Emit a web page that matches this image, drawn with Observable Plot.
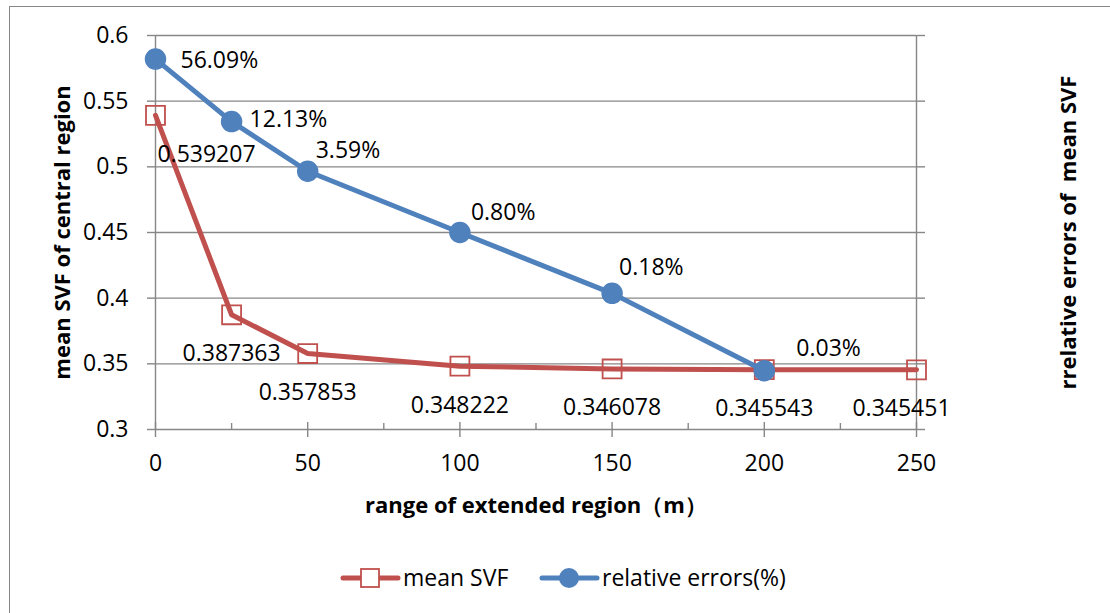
<!DOCTYPE html>
<html>
<head>
<meta charset="utf-8">
<script src="https://cdn.jsdelivr.net/npm/d3@7"></script>
<script src="https://cdn.jsdelivr.net/npm/@observablehq/plot@0.6"></script>
<style>
  html, body { margin: 0; padding: 0; background: #fff; }
  #wrap { position: relative; width: 1110px; height: 613px; overflow: hidden; font-family: 'Open Sans', sans-serif; }
  #frame { position: absolute; left: 9px; top: 6px; width: 1200px; height: 700px; border-left: 1.5px solid #888; border-top: 1.5px solid #888; }
  #base, #over { position: absolute; left: 0; top: 0; }
  #legend { position: absolute; left: 0; top: 545px; }
</style>
</head>
<body>
<div id="wrap">
  <div id="frame"></div>
  <div id="base"></div>
  <div id="over"></div>
  <div id="legend"></div>
</div>
<script>
// ---- data ----
const ranges = [0, 25, 50, 100, 150, 200, 250];
const meanSVF = [0.539207, 0.387363, 0.357853, 0.348222, 0.346078, 0.345543, 0.345451];
const errRanges = [0, 25, 50, 100, 150, 200];
const relErrors = [56.09, 12.13, 3.59, 0.80, 0.18, 0.027]; // percent
const leftTicks = [0.3, 0.35, 0.4, 0.45, 0.5, 0.55, 0.6];
const rightTicks = [0.0064, 0.032, 0.16, 0.8, 4, 20, 100]; // percent, log base 5
const xMajorTicks = [0, 50, 100, 150, 200, 250];
const xMinorTicks = [25, 75, 125, 175, 225];
const leftTitle = "mean SVF of central region";
const rightTitle = "rrelative errors of  mean SVF";
const xTitle = "range of extended region（m）";
const seriesNames = ["mean SVF", "relative errors(%)"];

const svfData = ranges.map((x, i) => ({x, v: meanSVF[i]}));
const errData = errRanges.map((x, i) => ({x, v: relErrors[i]}));

const RED = "#C0504D", BLUE = "#4F81BD", GRID = "#878787";
const W = 1110, H = 545;
const FONT = "'Open Sans', sans-serif";
const common = {
  width: W, height: H,
  marginLeft: 155, marginRight: 194, marginTop: 35, marginBottom: 116,
  style: {fontFamily: FONT, fontSize: "23px", background: "transparent", color: "#000", overflow: "visible"}
};

const base = Plot.plot({
  ...common,
  x: {domain: [0, 250]},
  y: {domain: [0.3, 0.6]},
  marks: [
    Plot.ruleY(leftTicks, {stroke: GRID, strokeWidth: 1.4}),
    Plot.ruleX([0, 250], {stroke: GRID, strokeWidth: 1.4}),
    Plot.axisX(xMajorTicks, {tickSize: 15, dy: -7, stroke: GRID, strokeWidth: 1.4, tickFormat: () => "", label: null}),
    Plot.axisX(xMinorTicks, {tickSize: 6, dy: -6, stroke: GRID, strokeWidth: 1.4, tickFormat: () => "", label: null}),
    Plot.axisX(xMajorTicks, {tickSize: 0, tickPadding: 25, fontSize: 23, fill: "#000", label: null}),
    Plot.axisY(leftTicks, {anchor: "left", tickSize: 8, tickPadding: 19, stroke: GRID, strokeWidth: 1.4, fill: "#000", fontSize: 23, label: null,
      tickFormat: d => String(+d.toFixed(2))}),
    Plot.line(svfData, {x: "x", y: "v", stroke: RED, strokeWidth: 5, strokeLinejoin: "round"}),
    Plot.dot(svfData, {x: "x", y: "v", symbol: "square", r: 10.7, stroke: RED, strokeWidth: 1.8, fill: "none"}),
    Plot.text(svfData, {filter: (d, i) => i === 0, x: "x", y: "v", text: d => d.v.toFixed(6), dx: 51, dy: 39, fontSize: 23, fill: "#000"}),
    Plot.text(svfData, {filter: (d, i) => i > 0 && i < svfData.length - 1, x: "x", y: "v", text: d => d.v.toFixed(6), dy: 39, fontSize: 23, fill: "#000"}),
    Plot.text(svfData, {filter: (d, i) => i === svfData.length - 1, x: "x", y: "v", text: d => d.v.toFixed(6), dx: -15, dy: 39, fontSize: 23, fill: "#000"}),
    Plot.text([leftTitle], {frameAnchor: "left", textAnchor: "middle", lineAnchor: "middle", dx: -93, rotate: -90, fontWeight: "bold", fontSize: 22, fill: "#000"}),
    Plot.text([xTitle], {frameAnchor: "bottom", textAnchor: "middle", lineAnchor: "middle", dy: 76, fontWeight: "bold", fontSize: 22, fill: "#000"})
  ]
});
document.getElementById("base").appendChild(base);

// label offsets (style only) for the relative error labels
const errLabelOffsets = [[25, 2], [18, -2], [8, -21], [11, -20], [7, -26], [32, -22]];

const over = Plot.plot({
  ...common,
  x: {domain: [0, 250], axis: null},
  y: {type: "log", base: 5, domain: [0.0064, 100]},
  marks: [
    Plot.axisY(rightTicks, {anchor: "right", tickSize: 8, tickPadding: 18, stroke: GRID, strokeWidth: 1.4, fill: "#000", fontSize: 23, label: null,
      tickFormat: d => d3.format(".2f")(d) + "%"}),
    Plot.line(errData, {x: "x", y: "v", stroke: BLUE, strokeWidth: 5, strokeLinejoin: "round"}),
    Plot.dot(errData, {x: "x", y: "v", r: 10, fill: BLUE, stroke: BLUE}),
    ...errData.map((d, i) => Plot.text([d], {x: "x", y: "v", text: e => e.v.toFixed(2) + "%",
      textAnchor: "start", dx: errLabelOffsets[i][0], dy: errLabelOffsets[i][1], fontSize: 23, fill: "#000"})),
    Plot.text([rightTitle], {frameAnchor: "right", textAnchor: "middle", lineAnchor: "middle", dx: 152, rotate: -90, fontWeight: "bold", fontSize: 22, fill: "#000"})
  ]
});
document.getElementById("over").appendChild(over);

// ---- legend ----
const lg = d3.select("#legend").append("svg").attr("width", W).attr("height", 68)
  .style("font-family", FONT);
const ly = 33;
const g1 = lg.append("g");
g1.append("line").attr("x1", 343).attr("x2", 398).attr("y1", ly).attr("y2", ly)
  .attr("stroke", RED).attr("stroke-width", 5).attr("stroke-linecap", "round");
g1.append("rect").attr("x", 361).attr("y", ly - 9).attr("width", 18).attr("height", 18)
  .attr("fill", "#fff").attr("stroke", RED).attr("stroke-width", 1.8);
g1.append("text").attr("x", 403).attr("y", ly).attr("dy", "0.35em").attr("font-size", 23).text(seriesNames[0]);
const g2 = lg.append("g");
g2.append("line").attr("x1", 542).attr("x2", 597).attr("y1", ly).attr("y2", ly)
  .attr("stroke", BLUE).attr("stroke-width", 5).attr("stroke-linecap", "round");
g2.append("circle").attr("cx", 569).attr("cy", ly).attr("r", 10).attr("fill", BLUE);
g2.append("text").attr("x", 602).attr("y", ly).attr("dy", "0.35em").attr("font-size", 23).text(seriesNames[1]);
</script>
</body>
</html>
